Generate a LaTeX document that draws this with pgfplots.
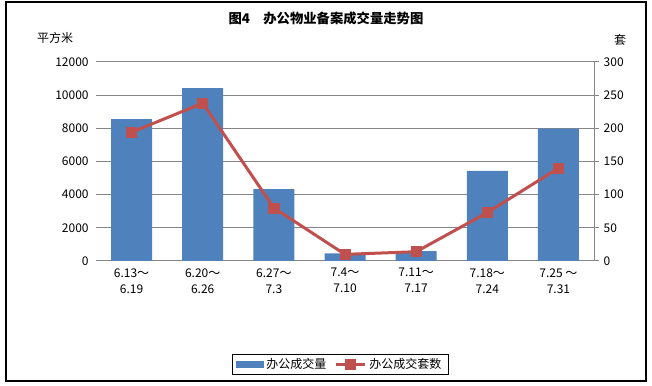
\documentclass[border=0pt]{standalone}
\usepackage{pgfplots}
\pgfplotsset{compat=1.18}
\usepackage{fontspec}
\setmainfont{Noto Sans CJK SC}
\definecolor{barblue}{HTML}{4F81BD}
\definecolor{linered}{HTML}{C0504D}
\definecolor{gridgray}{HTML}{868686}
\pgfplotsset{longline legend/.style={legend image code/.code={\draw[mark repeat=2,mark phase=2,##1] plot coordinates {(0pt,0pt) (11pt,0pt) (22pt,0pt)};}}}
\begin{document}
\begin{tikzpicture}
\path[use as bounding box] (0,0) rectangle (489pt,288.75pt);
\draw[black, line width=0.9pt] (4.5pt,3pt) rectangle (484.5pt,287.25pt);
\node[font=\bfseries\fontsize{10}{12}\selectfont] at (244.5pt,275.25pt) {图4\quad 办公物业备案成交量走势图};
\node[font=\fontsize{9}{11}\selectfont] at (41.25pt,260.25pt) {平方米};
\node[font=\fontsize{9}{11}\selectfont] at (465pt,258.75pt) {套};
\begin{axis}[
  at={(72pt,93pt)}, anchor=south west, scale only axis,
  width=373.5pt, height=149.25pt,
  xmin=-0.5, xmax=6.5, ymin=0, ymax=12000,
  ytick={0,2000,...,12000},
  xtick={0,1,2,3,4,5,6},
  xticklabels={{6.13～\\6.19},{6.20～\\6.26},{6.27～\\7.3},{7.4～\\7.10},{7.11～\\7.17},{7.18～\\7.24},{7.25 ～\\7.31}},
  x tick label style={align=center, font=\fontsize{9}{12}\selectfont, yshift=-2pt},
  y tick label style={font=\fontsize{9}{11}\selectfont, xshift=-2pt},
  /pgf/number format/assume math mode=true,
  /pgf/number format/1000 sep={},
  scaled y ticks=false,
  axis x line*=bottom, axis y line*=left,
  x axis line style={draw=gridgray, line width=0.75pt, -},
  y axis line style={draw=none},
  major tick length=0pt,
  ymajorgrids, grid style={draw=gridgray, line width=0.75pt},
]
\addplot[ybar, bar width=30.75pt, fill=barblue, draw=none] coordinates {
(0,8560) (1,10430) (2,4340) (3,460) (4,600) (5,5430) (6,7980)};
\end{axis}
\begin{axis}[
  at={(72pt,93pt)}, anchor=south west, scale only axis,
  width=373.5pt, height=149.25pt,
  xmin=-0.5, xmax=6.5, ymin=0, ymax=300,
  ytick={0,50,...,300},
  axis y line*=right, axis x line=none,
  y axis line style={draw=gridgray, line width=0.75pt, -},
  ytick style={draw=gridgray, line width=0.75pt},
  tick align=outside, major tick length=3.75pt,
  y tick label style={font=\fontsize{9}{11}\selectfont},
  /pgf/number format/assume math mode=true,
  legend columns=2,
  legend style={at={(0.49,-0.52)}, anchor=center, draw=black, line width=0.75pt,
    font=\fontsize{9}{11}\selectfont, inner xsep=3pt, inner ysep=1pt,
    /tikz/every even column/.append style={column sep=4pt}},
  legend cell align=left,
]
\addlegendimage{legend image code/.code={\fill[barblue] (0pt,-2.6pt) rectangle (20pt,2.6pt);}}
\addlegendentry{办公成交量}
\addplot[linered, line width=2.25pt, mark=square*, mark size=3.8pt, mark options={fill=linered, line width=0.5pt},
  longline legend] coordinates {
(0,194) (1,238) (2,80) (3,10) (4,14) (5,73) (6,140)};
\addlegendentry{办公成交套数}
\end{axis}
\end{tikzpicture}
\end{document}
